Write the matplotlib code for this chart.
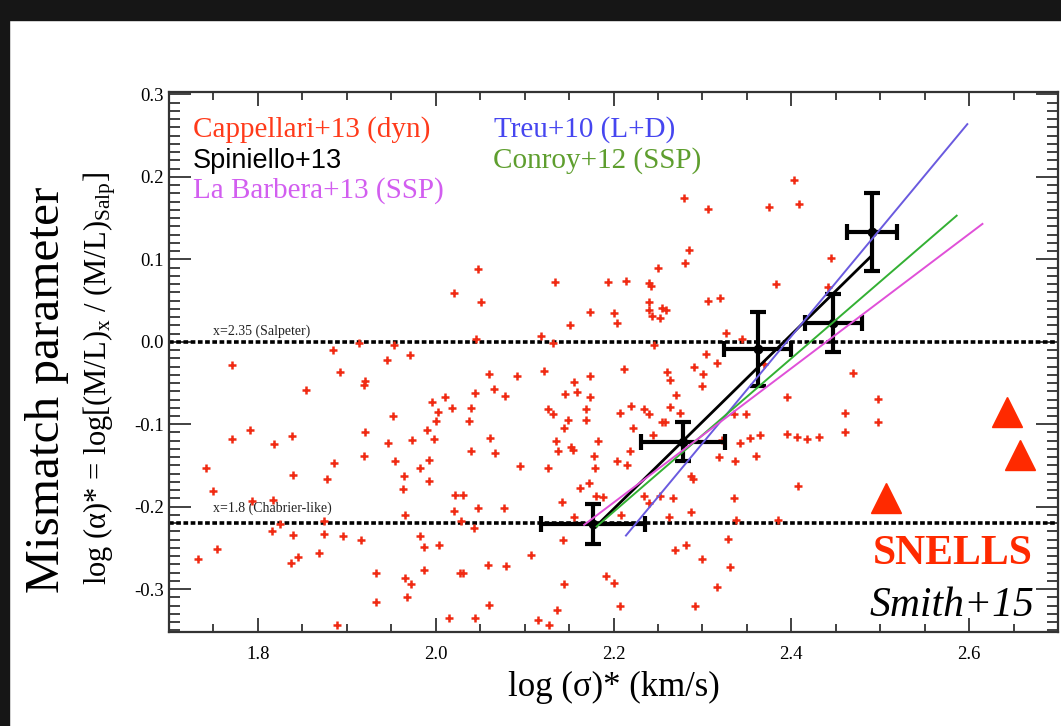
import matplotlib
matplotlib.use("Agg")
import matplotlib.pyplot as plt
from matplotlib.patches import Rectangle
from matplotlib.ticker import MultipleLocator

plt.rcParams['font.family'] = ['Liberation Serif', 'DejaVu Serif']
plt.rcParams['mathtext.fontset'] = 'custom'
plt.rcParams['mathtext.rm'] = 'Liberation Serif'
plt.rcParams['mathtext.it'] = 'Liberation Serif:italic'

# Cappellari+13 dynamical sample (red crosses)
cap_x = [2.021, 2.048, 2.051,
         1.771, 1.742, 1.750, 1.733, 1.754, 1.771, 1.791, 1.793, 1.818, 1.817,
         1.816, 1.825, 1.838, 1.840, 1.840, 1.837, 1.845, 1.854, 1.869, 1.874,
         1.874, 1.878, 1.886, 1.885, 1.892, 1.896, 1.889, 1.914, 1.919, 1.920,
         1.919, 1.920, 1.916, 1.933, 1.933, 1.945, 1.946, 1.953, 1.952, 1.954,
         1.971, 1.973, 1.964, 1.963, 1.966, 1.966, 1.972, 1.968, 1.982, 1.982,
         1.987, 1.987, 1.990, 1.992, 1.992, 1.996, 1.998, 2.000, 2.003, 2.004,
         2.010, 2.018, 2.015, 2.021, 2.022, 2.031, 2.029, 2.027, 2.031, 2.037,
         2.040, 2.040, 2.044, 2.043, 2.044, 2.048, 2.045, 2.060, 2.066, 2.061,
         2.067, 2.059, 2.060,
         2.279, 2.306, 2.285, 2.280, 2.250, 2.134, 2.194, 2.214, 2.240, 2.242,
         2.174, 2.200, 2.204, 2.151, 2.240, 2.240, 2.243, 2.254, 2.259, 2.252,
         2.306, 2.320, 2.375, 2.403, 2.409, 2.383, 2.445, 2.441, 2.119, 2.132,
         2.246, 2.327, 2.345, 2.304, 2.316, 2.369, 2.092, 2.122, 2.174, 2.212,
         2.260, 2.290, 2.301, 2.469,
         2.264, 2.300, 2.078, 2.156, 2.159, 2.146, 2.174, 2.270, 2.264, 2.275,
         2.234, 2.220, 2.240, 2.254, 2.258, 2.126, 2.132, 2.169, 2.169, 2.207,
         2.144, 2.149, 2.222, 2.244, 2.135, 2.152, 2.155, 2.138, 2.183, 2.178,
         2.204, 2.215, 2.219, 2.095, 2.126, 2.179, 2.172, 2.162, 2.180, 2.188,
         2.234, 2.252, 2.267, 2.240, 2.142, 2.077, 2.156, 2.208, 2.262, 2.287,
         2.287, 2.289, 2.319, 2.322, 2.336, 2.337, 2.349, 2.342, 2.354, 2.360,
         2.365, 2.336, 2.338, 2.385, 2.395, 2.395, 2.406, 2.418, 2.431, 2.408,
         2.460, 2.460, 2.497, 2.498, 2.143, 2.107, 2.079, 2.144, 2.192, 2.201,
         2.269, 2.281, 2.299, 2.329, 2.331, 2.316, 2.136, 2.207, 2.292, 2.115,
         2.128]
cap_y = [0.059, 0.088, 0.048,
         -0.028, -0.153, -0.181, -0.263, -0.251, -0.118, -0.107, -0.193, -0.124, -0.192,
         -0.229, -0.221, -0.114, -0.162, -0.234, -0.268, -0.261, -0.058, -0.256, -0.217,
         -0.233, -0.166, -0.147, -0.010, -0.037, -0.235, -0.344, -0.002, -0.138, -0.109,
         -0.052, -0.048, -0.241, -0.281, -0.316, -0.022, -0.123, -0.004, -0.090, -0.144,
         -0.016, -0.119, -0.163, -0.178, -0.210, -0.286, -0.294, -0.310, -0.153, -0.235,
         -0.249, -0.277, -0.107, -0.143, -0.169, -0.073, -0.118, -0.096, -0.085, -0.247,
         -0.067, -0.080, -0.335, -0.205, -0.186, -0.186, -0.217, -0.281, -0.281, -0.096,
         -0.080, -0.133, -0.062, -0.226, -0.335, -0.202, 0.003, -0.039, -0.057, -0.117,
         -0.135, -0.271, -0.319,
         0.175, 0.161, 0.111, 0.096, 0.089, 0.072, 0.072, 0.074, 0.071, 0.068,
         0.036, 0.035, 0.023, 0.020, 0.048, 0.038, 0.031, 0.041, 0.039, 0.029,
         0.050, 0.053, 0.163, 0.196, 0.167, 0.070, 0.102, 0.067, 0.007, -0.001,
         -0.004, 0.011, 0.003, -0.015, -0.026, -0.027, -0.042, -0.036, -0.042, -0.033,
         -0.037, -0.030, -0.039, -0.038,
         -0.046, -0.054, -0.066, -0.049, -0.061, -0.063, -0.067, -0.065, -0.079, -0.086,
         -0.081, -0.078, -0.088, -0.097, -0.097, -0.081, -0.088, -0.082, -0.095, -0.086,
         -0.105, -0.095, -0.104, -0.113, -0.120, -0.128, -0.131, -0.133, -0.120, -0.138,
         -0.145, -0.149, -0.133, -0.151, -0.153, -0.153, -0.171, -0.177, -0.187, -0.188,
         -0.187, -0.187, -0.189, -0.195, -0.194, -0.202, -0.212, -0.210, -0.212, -0.207,
         -0.163, -0.167, -0.140, -0.119, -0.087, -0.145, -0.088, -0.123, -0.117, -0.138,
         -0.113, -0.190, -0.216, -0.216, -0.112, -0.067, -0.115, -0.118, -0.115, -0.175,
         -0.086, -0.110, -0.069, -0.097, -0.241, -0.259, -0.272, -0.294, -0.284, -0.292,
         -0.252, -0.247, -0.263, -0.239, -0.273, -0.297, -0.325, -0.321, -0.321, -0.338,
         -0.344]

# Spiniello+13 binned points
sp_x = [2.177, 2.278, 2.362, 2.447, 2.491]
sp_y = [-0.221, -0.121, -0.009, 0.023, 0.133]
sp_xerr = [0.058, 0.047, 0.038, 0.032, 0.028]
sp_yerr = [0.024, 0.024, 0.045, 0.035, 0.047]
sp_fit_x = [2.182, 2.490]
sp_fit_y = [-0.222, 0.104]

# relations from other works
treu_x = [2.214, 2.598]
treu_y = [-0.235, 0.264]
conroy_x = [2.181, 2.586]
conroy_y = [-0.224, 0.153]
labarbera_x = [2.167, 2.615]
labarbera_y = [-0.222, 0.143]

# SNELLS (Smith+15)
snells_x = [2.507, 2.643, 2.657]
snells_y = [-0.190, -0.085, -0.137]

# IMF reference levels
imf_y = [0.0, -0.22]
imf_labels = ["x=2.35 (Salpeter)", "x=1.8 (Chabrier-like)"]

fig = plt.figure(figsize=(10.61, 7.26), dpi=100)
fig.patches.append(Rectangle((0, 1 - 20 / 726), 1, 20 / 726, transform=fig.transFigure,
                             color='#161616', zorder=0))
fig.patches.append(Rectangle((0, 0), 9 / 1061, 1, transform=fig.transFigure,
                             color='#161616', zorder=0))

ax = fig.add_axes([169 / 1061, 1 - 632 / 726, 889 / 1061, 540 / 726])
ax.set_xlim(1.70, 2.70)
ax.set_ylim(-0.352, 0.303)

for yv in imf_y:
    ax.axhline(yv, color='black', lw=2.6, dashes=(1.3, 0.7), zorder=2)
ax.text(1.7495, 0.009, imf_labels[0], fontsize=10, color='#222222')
ax.text(1.7495, -0.206, imf_labels[1], fontsize=10, color='#222222')

ax.plot(cap_x, cap_y, linestyle='none', marker='+', ms=5.5, mew=1.8,
        color='#F02A12', zorder=3)

ax.plot(sp_fit_x, sp_fit_y, color='black', lw=2, zorder=4)
ax.errorbar(sp_x, sp_y, xerr=sp_xerr, yerr=sp_yerr, fmt='o', color='black',
            ms=6, elinewidth=3, capsize=5.5, capthick=3, zorder=5)
ax.plot(treu_x, treu_y, color='#6A5ADF', lw=1.4, zorder=6)
ax.plot(conroy_x, conroy_y, color='#33B033', lw=1.4, zorder=6)
ax.plot(labarbera_x, labarbera_y, color='#E050D8', lw=1.4, zorder=6)

ax.plot(snells_x, snells_y, linestyle='none', marker='^', ms=21,
        color='#FF2A00', zorder=6)

# legend-like annotations
ax.text(1.727, 0.2485, "Cappellari+13 (dyn)", fontsize=21, color='#FF3A1A')
ax.text(1.727, 0.211, "Spiniello+13", fontsize=19.5, color='black',
        family='Liberation Sans')
ax.text(1.727, 0.1745, "La Barbera+13 (SSP)", fontsize=21, color='#D25EF0')
ax.text(2.0656, 0.2485, "Treu+10 (L+D)", fontsize=21, color='#4646F0')
ax.text(2.0645, 0.211, "Conroy+12 (SSP)", fontsize=21, color='#5E9E2E')

ax.text(2.671, -0.27, "SNELLS", fontsize=30, fontweight='bold', color='#FF2A00',
        ha='right')
ax.text(2.673, -0.332, "Smith+15", fontsize=30, style='italic', color='black',
        ha='right')

ax.xaxis.set_major_locator(MultipleLocator(0.2))
ax.xaxis.set_minor_locator(MultipleLocator(0.05))
ax.yaxis.set_major_locator(MultipleLocator(0.1))
ax.yaxis.set_minor_locator(MultipleLocator(0.01))
ax.tick_params(which='both', direction='in', top=True, right=True,
               color='#333333', width=1.3, labelsize=13.5)
ax.tick_params(axis='x', which='major', length=10)
ax.tick_params(axis='x', which='minor', length=6)
ax.tick_params(axis='y', which='major', length=16)
ax.tick_params(axis='y', which='minor', length=8)
ax.tick_params(axis='x', pad=10)
ax.set_xticks([1.8, 2.0, 2.2, 2.4, 2.6])
ax.set_xticklabels(["1.8", "2.0", "2.2", "2.4", "2.6"])
ax.set_yticks([-0.3, -0.2, -0.1, 0.0, 0.1, 0.2, 0.3])
ax.set_yticklabels(["-0.3", "-0.2", "-0.1", "0.0", "0.1", "0.2", "0.3"])
for s in ax.spines.values():
    s.set_linewidth(1.6)
    s.set_color('#333333')

ax.set_xlabel("log (σ)* (km/s)", fontsize=25, labelpad=6)
fig.text(47 / 1061, 1 - 390 / 726, "Mismatch parameter", fontsize=35.5,
         rotation=90, ha='center', va='center')
fig.text(100 / 1061, 1 - 378 / 726,
         r"log (α)* = log[(M/L)$_{\rm x}$ / (M/L)$_{\rm Salp}$]",
         fontsize=22, rotation=90, ha='center', va='center')

fig.savefig("out.png", dpi=100)
